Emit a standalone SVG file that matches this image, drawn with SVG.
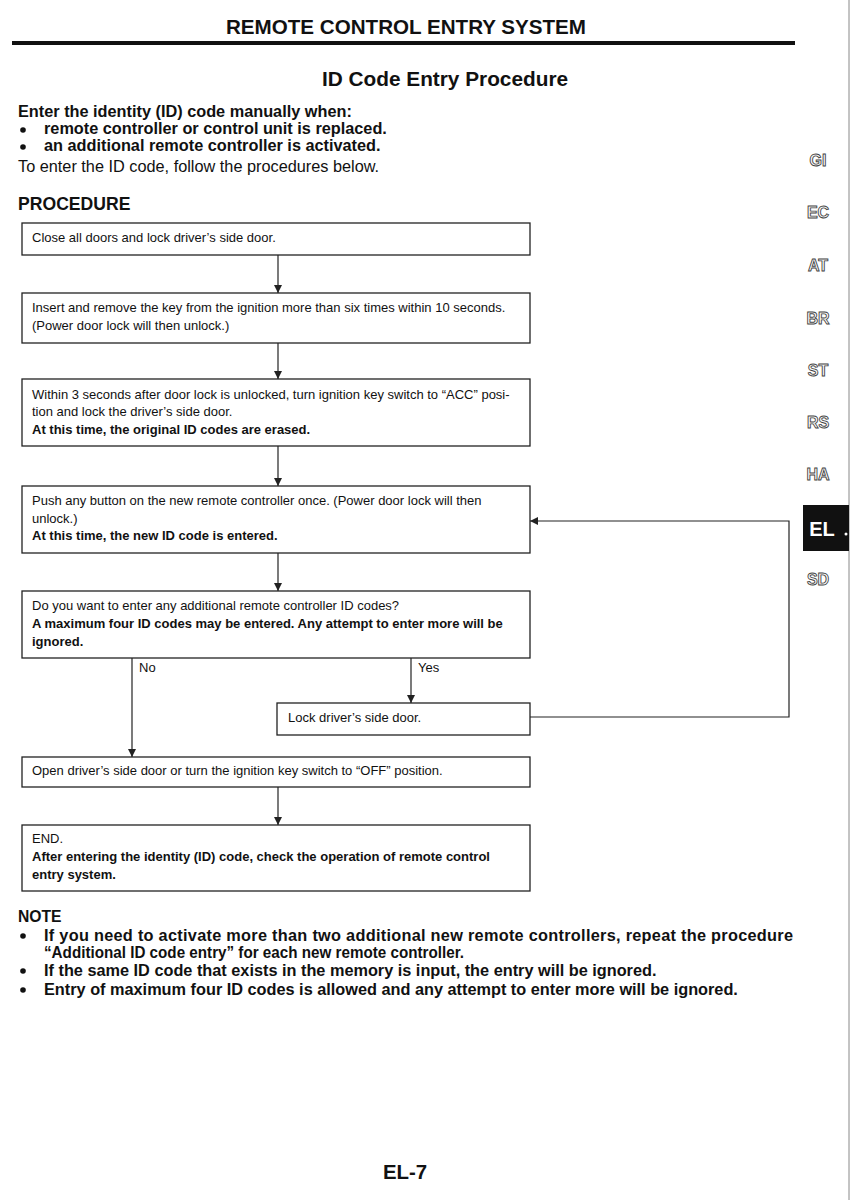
<svg xmlns="http://www.w3.org/2000/svg" width="852" height="1200" viewBox="0 0 852 1200">
<style>
text{font-family:"Liberation Sans",Arial,sans-serif;fill:#111}
.box{fill:#fff;stroke:#222;stroke-width:1.3}
.bt{font-size:13px}
.bb{font-size:13px;font-weight:bold}
.ln{stroke:#222;stroke-width:1.2;fill:none}
.tab{font-size:16px;font-weight:bold;fill:#fff;stroke:#444;stroke-width:0.9;text-anchor:middle}
.intro{font-size:16.3px;font-weight:bold}
.note{font-size:16.3px;font-weight:bold}
</style>
<defs>
<marker id="ah" viewBox="0 0 10 10" refX="10" refY="5" markerWidth="8" markerHeight="8" markerUnits="userSpaceOnUse" orient="auto">
<path d="M0,0 L10,5 L0,10 Z" fill="#222"/>
</marker>
</defs>
<rect width="852" height="1200" fill="#fff"/>
<line x1="849" y1="0" x2="849" y2="1200" stroke="#888" stroke-width="1"/>
<g id="header">
<text x="406" y="34" font-size="20.6" font-weight="bold" text-anchor="middle">REMOTE CONTROL ENTRY SYSTEM</text>
<line x1="12" y1="43" x2="795" y2="43" stroke="#111" stroke-width="4"/>
<text x="445" y="86" font-size="20.8" font-weight="bold" text-anchor="middle">ID Code Entry Procedure</text>
</g>
<g id="intro">
<text x="18" y="117" class="intro">Enter the identity (ID) code manually when:</text>
<circle cx="23" cy="130" r="2.8" fill="#111"/>
<text x="44" y="134" class="intro">remote controller or control unit is replaced.</text>
<circle cx="23" cy="147" r="2.8" fill="#111"/>
<text x="44" y="151" class="intro">an additional remote controller is activated.</text>
<text x="18" y="172" font-size="16.3">To enter the ID code, follow the procedures below.</text>
<text x="18" y="210" font-size="17.6" font-weight="bold">PROCEDURE</text>
</g>
<g id="tabs">
<text x="818" y="166" class="tab">GI</text>
<text x="818" y="218" class="tab">EC</text>
<text x="818" y="271" class="tab">AT</text>
<text x="818" y="324" class="tab">BR</text>
<text x="818" y="376" class="tab">ST</text>
<text x="818" y="428" class="tab">RS</text>
<text x="818" y="480" class="tab">HA</text>
<rect x="803" y="505" width="46" height="46" fill="#111"/>
<text x="822" y="536" font-size="20" font-weight="bold" text-anchor="middle" style="fill:#fff">EL</text>
<circle cx="846" cy="534" r="1.5" fill="#fff"/>
<text x="818" y="585" class="tab">SD</text>
</g>
<g id="connectors">
<line x1="278" y1="255" x2="278" y2="293" class="ln" marker-end="url(#ah)"/>
<line x1="278" y1="343" x2="278" y2="379" class="ln" marker-end="url(#ah)"/>
<line x1="278" y1="446" x2="278" y2="486" class="ln" marker-end="url(#ah)"/>
<line x1="278" y1="553" x2="278" y2="591" class="ln" marker-end="url(#ah)"/>
<line x1="132" y1="658" x2="132" y2="757" class="ln" marker-end="url(#ah)"/>
<line x1="411" y1="658" x2="411" y2="703" class="ln" marker-end="url(#ah)"/>
<polyline points="530,717 789,717 789,521 530,521" class="ln" marker-end="url(#ah)"/>
<line x1="278" y1="787" x2="278" y2="825" class="ln" marker-end="url(#ah)"/>
<text x="139" y="672" class="bt">No</text>
<text x="418" y="672" class="bt">Yes</text>
</g>
<g id="step1">
<rect x="22" y="223" width="508" height="32" class="box"/>
<text x="32" y="242" class="bt">Close all doors and lock driver’s side door.</text>
</g>
<g id="step2">
<rect x="22" y="293" width="508" height="50" class="box"/>
<text x="32" y="312" class="bt">Insert and remove the key from the ignition more than six times within 10 seconds.</text>
<text x="32" y="330" class="bt">(Power door lock will then unlock.)</text>
</g>
<g id="step3">
<rect x="22" y="379" width="508" height="67" class="box"/>
<text x="32" y="399" class="bt">Within 3 seconds after door lock is unlocked, turn ignition key switch to “ACC” posi-</text>
<text x="32" y="416" class="bt">tion and lock the driver’s side door.</text>
<text x="32" y="434" class="bb">At this time, the original ID codes are erased.</text>
</g>
<g id="step4">
<rect x="22" y="486" width="508" height="67" class="box"/>
<text x="32" y="505" class="bt">Push any button on the new remote controller once. (Power door lock will then</text>
<text x="32" y="523" class="bt">unlock.)</text>
<text x="32" y="540" class="bb">At this time, the new ID code is entered.</text>
</g>
<g id="step5">
<rect x="22" y="591" width="508" height="67" class="box"/>
<text x="32" y="610" class="bt">Do you want to enter any additional remote controller ID codes?</text>
<text x="32" y="628" class="bb">A maximum four ID codes may be entered. Any attempt to enter more will be</text>
<text x="32" y="646" class="bb">ignored.</text>
</g>
<g id="lock">
<rect x="277" y="703" width="253" height="32" class="box"/>
<text x="288" y="722" class="bt">Lock driver’s side door.</text>
</g>
<g id="step6">
<rect x="22" y="757" width="508" height="30" class="box"/>
<text x="32" y="775" class="bt">Open driver’s side door or turn the ignition key switch to “OFF” position.</text>
</g>
<g id="end">
<rect x="22" y="825" width="508" height="66" class="box"/>
<text x="32" y="843" class="bt">END.</text>
<text x="32" y="861" class="bb">After entering the identity (ID) code, check the operation of remote control</text>
<text x="32" y="879" class="bb">entry system.</text>
</g>
<g id="notes">
<text x="18" y="922" font-size="15.7" font-weight="bold">NOTE</text>
<circle cx="23" cy="936" r="2.8" fill="#111"/>
<text x="44" y="941" class="note" textLength="749" lengthAdjust="spacing">If you need to activate more than two additional new remote controllers, repeat the procedure</text>
<text x="44" y="958" class="note" textLength="420" lengthAdjust="spacingAndGlyphs">“Additional ID code entry” for each new remote controller.</text>
<circle cx="23" cy="971" r="2.8" fill="#111"/>
<text x="44" y="976" class="note">If the same ID code that exists in the memory is input, the entry will be ignored.</text>
<circle cx="23" cy="990" r="2.8" fill="#111"/>
<text x="44" y="995" class="note">Entry of maximum four ID codes is allowed and any attempt to enter more will be ignored.</text>
</g>
<g id="footer">
<text x="405" y="1179" font-size="20.4" font-weight="bold" text-anchor="middle">EL-7</text>
</g>
</svg>
